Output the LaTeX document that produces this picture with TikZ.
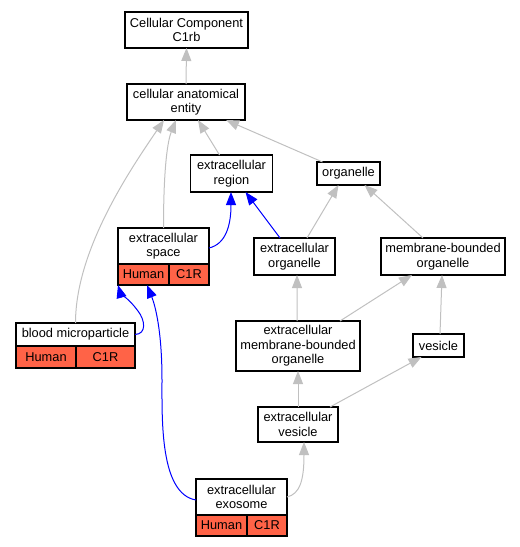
\documentclass[tikz,border=0pt]{standalone}
\usepackage{fontspec}
\setmainfont{Liberation Sans}
\usetikzlibrary{arrows.meta}
\definecolor{edgegray}{HTML}{C0C0C0}
\definecolor{tomatofill}{HTML}{FF6347}
\begin{document}
\begin{tikzpicture}[x=1bp,y=-1bp,
  box/.style={draw=black,line width=1.2bp,fill=white,inner sep=0pt,outer sep=0pt,align=center,
    font=\fontsize{12.8bp}{14.5bp}\selectfont},
  cell/.style={box,fill=tomatofill},
  isa/.style={draw=edgegray,line width=1bp,-{Triangle[length=13bp,width=10bp]}},
  partof/.style={draw=blue,line width=1bp,-{Triangle[length=13bp,width=10bp]}}]
\useasboundingbox (0,0) rectangle (520,547);
% nodes
\node[box,minimum width=123bp,minimum height=36bp] (cc) at (186.5,30) {Cellular Component\\C1rb};
\node[box,minimum width=118bp,minimum height=36bp] (aee) at (186,102) {cellular anatomical\\entity};
\node[box,minimum width=82bp,minimum height=37bp] (er) at (231.5,173.5) {extracellular\\region};
\node[box,minimum width=63bp,minimum height=23bp] (org) at (348.5,173.5) {organelle};
\node[box,minimum width=81bp,minimum height=37bp] (eo) at (294.5,256.5) {extracellular\\organelle};
\node[box,minimum width=124bp,minimum height=37bp] (mbo) at (443,256.5) {membrane-bounded\\organelle};
\node[box,minimum width=124bp,minimum height=50bp] (embo) at (298,346) {extracellular\\membrane-bounded\\organelle};
\node[box,minimum width=51bp,minimum height=23bp] (ves) at (438.5,345.5) {vesicle};
\node[box,minimum width=80bp,minimum height=35bp] (ev) at (298,424.5) {extracellular\\vesicle};
% record nodes
\node[box,minimum width=91bp,minimum height=36bp] (es) at (163.5,246) {extracellular\\space};
\node[cell,minimum width=51bp,minimum height=21bp] (esH) at (143.5,274.5) {Human};
\node[cell,minimum width=40bp,minimum height=21bp] (esC) at (189,274.5) {C1R};
\node[box,minimum width=119bp,minimum height=23bp] (bm) at (75.5,334.5) {blood microparticle};
\node[cell,minimum width=60bp,minimum height=22bp] (bmH) at (46,357) {Human};
\node[cell,minimum width=59bp,minimum height=22bp] (bmC) at (105.5,357) {C1R};
\node[box,minimum width=91bp,minimum height=36bp] (exo) at (241.5,497) {extracellular\\exosome};
\node[cell,minimum width=51bp,minimum height=21bp] (exoH) at (221.5,525.5) {Human};
\node[cell,minimum width=40bp,minimum height=21bp] (exoC) at (267,525.5) {C1R};
% gray is_a edges
\draw[isa] (aee.north) -- (cc.south);
\draw[isa] ([xshift=-12bp]er.north) -- ([xshift=12bp]aee.south);
\draw[isa] ([xshift=-26bp]org.north) -- ([xshift=40bp]aee.south);
\draw[isa] (bm.north) .. controls (75.5,250) and (130,170) .. ([xshift=-22bp]aee.south);
\draw[isa] (es.north) .. controls (163.5,165) and (168,140) .. ([xshift=-10bp]aee.south);
\draw[isa] ([xshift=12.5bp]eo.north) -- ([xshift=-10bp]org.south);
\draw[isa] ([xshift=-20bp]mbo.north) -- ([xshift=16bp]org.south);
\draw[isa] ([xshift=-1bp]embo.north) -- ([xshift=2.5bp]eo.south);
\draw[isa] ([xshift=42bp]embo.north) -- ([xshift=-31bp]mbo.south);
\draw[isa] ([xshift=1.5bp]ves.north) -- ([xshift=-1bp]mbo.south);
\draw[isa] (ev.north) -- (embo.south);
\draw[isa] ([xshift=32bp]ev.north) -- ([xshift=-17bp]ves.south);
\draw[isa] (exo.east) .. controls (300,494) and (304,480) .. ([xshift=6bp]ev.south);
% blue part_of edges
\draw[partof] ([xshift=-14.5bp]eo.north) -- ([xshift=14bp]er.south);
\draw[partof] ([yshift=-2bp]es.east) .. controls (226,244) and (231,225) .. ([xshift=-0.5bp]er.south);
\draw[partof] (bm.east) .. controls (147,334) and (145,320) .. (138,311)
  .. controls (130,300) and (120,292) .. (esH.south west);
\draw[partof] ([yshift=-3bp]exo.west) .. controls (160,494) and (162,420) .. (162,380)
  .. controls (162,330) and (155,305) .. ([xshift=3.5bp]esH.south);
\end{tikzpicture}
\end{document}
